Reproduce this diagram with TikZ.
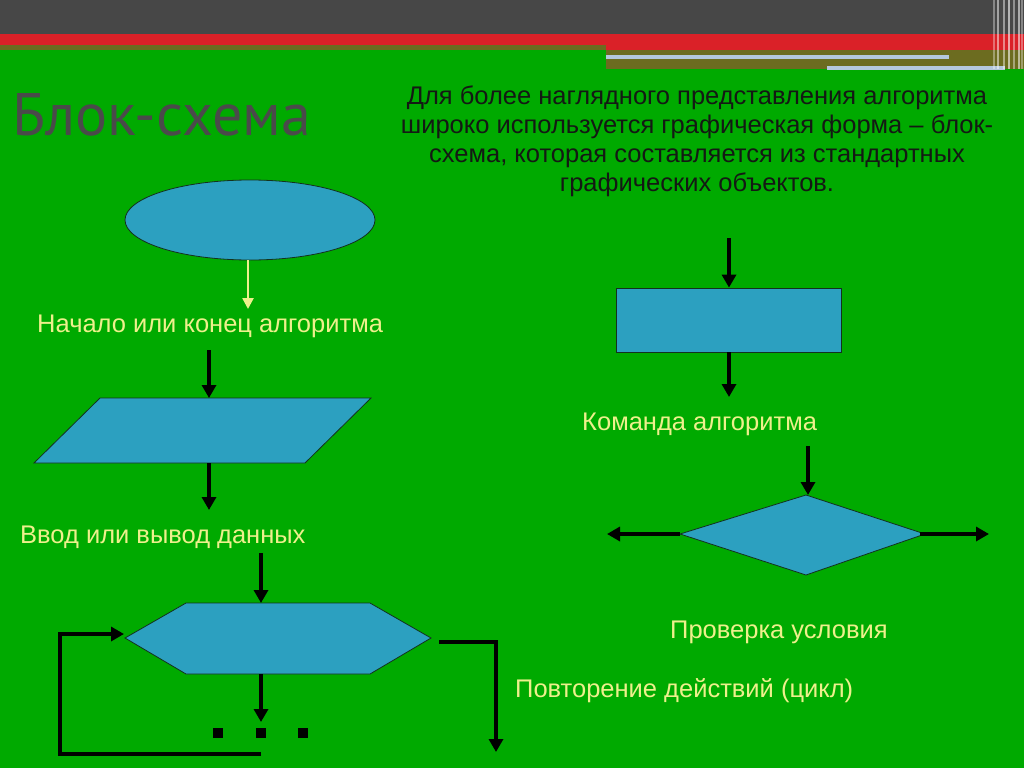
\documentclass[tikz,border=0pt]{standalone}
\usepackage{fontspec}
\setmainfont{Liberation Sans}
\newfontfamily\titlefont{PT Sans}
\usetikzlibrary{arrows.meta,shapes.geometric}
\definecolor{bg}{RGB}{0,170,0}
\definecolor{topgray}{RGB}{71,71,71}
\definecolor{topred}{RGB}{218,33,40}
\definecolor{olive}{RGB}{108,108,32}
\definecolor{paleblue}{RGB}{180,200,220}
\definecolor{shapefill}{RGB}{44,160,192}
\definecolor{shapeline}{RGB}{20,50,30}
\definecolor{lbl}{RGB}{238,240,140}
\definecolor{titlegray}{RGB}{74,74,74}
\definecolor{bodytext}{RGB}{20,25,20}
\tikzset{
  blk/.style={fill=shapefill, draw=shapeline, line width=0.8pt},
  flow/.style={line width=4pt, -{Triangle[length=13pt,width=14pt]}},
  loopline/.style={line width=4pt, line join=miter, -{Triangle[length=13pt,width=14pt]}},
  plain/.style={line width=4pt},
  lab/.style={anchor=base west, inner sep=0pt, text=lbl, font=\fontsize{25.5}{30}\selectfont},
  para/.style={anchor=base, inner sep=0pt, text=bodytext, font=\fontsize{25.5}{29}\selectfont},
}
\begin{document}
\begin{tikzpicture}[x=1pt,y=-1pt]
\useasboundingbox (0,0) rectangle (1024,768);
% background
\fill[bg] (0,0) rectangle (1024,768);
\fill[topgray] (0,0) rectangle (1024,34);
\fill[topred] (0,34) rectangle (1024,45);
\fill[olive] (0,45) rectangle (606,50);
\fill[topred] (606,45) rectangle (1024,50);
\fill[olive] (606,50) rectangle (1024,69);
\fill[paleblue] (606,55) rectangle (949,59);
\fill[paleblue] (827,66) rectangle (1005,70);
\foreach \xx/\ww/\op in {993/2/0.35,997/1.5/0.5,1003/2/0.45,1008/1.5/0.6,1013/2/0.4,1018/1.5/0.55,1021/2/0.35}
  \fill[white, opacity=\op] (\xx,0) rectangle ++(\ww,69);

% title and paragraph
\node[anchor=base west, inner sep=0pt, text=titlegray, font=\titlefont\fontsize{60}{64}\selectfont] (title) at (12,135) {Блок-схема};
\node[para] (p1) at (697,104) {Для более наглядного представления алгоритма};
\node[para] (p2) at (697,133) {широко используется графическая форма -- блок-};
\node[para] (p3) at (697,162) {схема, которая составляется из стандартных};
\node[para] (p4) at (697,191) {графических объектов.};

% ellipse: start/end
\node[blk, ellipse, minimum width=250pt, minimum height=80pt, inner sep=0pt] (start) at (250,220) {};
\coordinate (startarr) at (248,309);
\draw[lbl, line width=2.5pt, -{Triangle[length=11pt,width=11pt]}] (start.south -| startarr) -- (startarr);
\node[lab] (lab1) at (37,332) {Начало или конец алгоритма};

% parallelogram: input/output
\coordinate (io1) at (100,398);
\coordinate (io2) at (371,398);
\coordinate (io3) at (305,463);
\coordinate (io4) at (34,463);
\filldraw[blk] (io1) -- (io2) -- (io3) -- (io4) -- cycle;
\coordinate (ioin) at (209,350);
\coordinate (iotop) at (209,398);
\coordinate (iobot) at (209,463);
\coordinate (ioout) at (209,510);
\draw[flow] (ioin) -- (iotop);
\draw[flow] (iobot) -- (ioout);
\node[lab] (lab2) at (20,543) {Ввод или вывод данных};

% hexagon: loop
\coordinate (h1) at (125,638);
\coordinate (h2) at (186,603);
\coordinate (h3) at (370,603);
\coordinate (h4) at (431,638);
\coordinate (h5) at (370,674);
\coordinate (h6) at (186,674);
\filldraw[blk] (h1) -- (h2) -- (h3) -- (h4) -- (h5) -- (h6) -- cycle;
\coordinate (hin) at (261,553);
\coordinate (htop) at (261,603);
\coordinate (hbot) at (261,674);
\coordinate (hout) at (261,722);
\draw[flow] (hin) -- (htop);
\draw[flow] (hbot) -- (hout);
\foreach \dx in {218,261,303}
  \fill[black] (\dx-5,728) rectangle (\dx+5,738);
\coordinate (loopstart) at (261,754);
\coordinate (loopin) at (124,634);
\draw[loopline] (loopstart) -- (60,754) -- (60,634) -- (loopin);
\coordinate (exitstart) at (439,642);
\coordinate (exitend) at (496,752);
\draw[loopline] (exitstart) -- (exitstart -| exitend) -- (exitend);
\node[lab] (lab5) at (515,697) {Повторение действий (цикл)};

% rectangle: command
\node[blk, rectangle, minimum width=225pt, minimum height=64pt, inner sep=0pt] (cmd) at (728.5,320) {};
\coordinate (cmdin) at (729,238);
\coordinate (cmdout) at (729,397);
\draw[flow] (cmdin) -- (cmd.north -| cmdin);
\draw[flow] (cmd.south -| cmdout) -- (cmdout);
\node[lab] (lab3) at (582,430) {Команда алгоритма};

% diamond: condition
\coordinate (dt) at (806,495);
\coordinate (dr) at (925,534);
\coordinate (db) at (806,575);
\coordinate (dl) at (680,534);
\filldraw[blk] (dt) -- (dr) -- (db) -- (dl) -- cycle;
\coordinate (din) at (808,446);
\coordinate (dleft) at (607,534);
\coordinate (dright) at (989,534);
\draw[flow] (din) -- (dt -| din);
\draw[flow] (dl) -- (dleft);
\draw[flow] ([xshift=-5pt]dr) -- (dright);
\node[lab] (lab4) at (670,638) {Проверка условия};
\end{tikzpicture}
\end{document}
